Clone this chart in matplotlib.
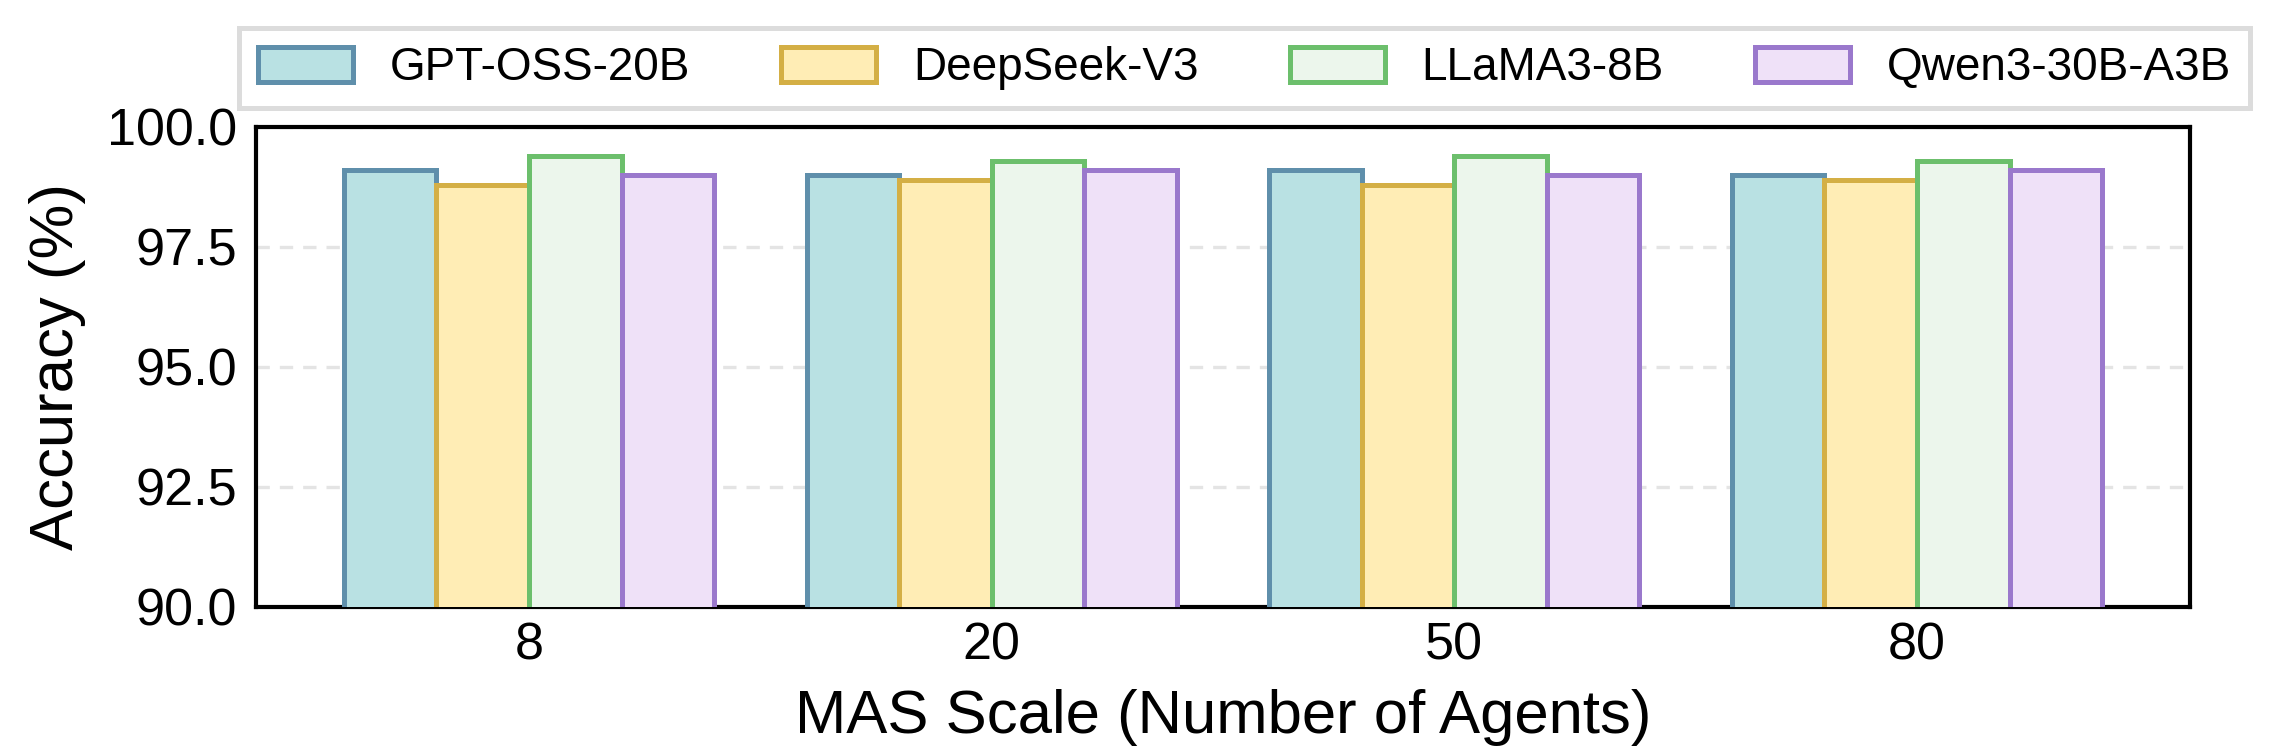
import numpy as np
import matplotlib
matplotlib.use("Agg")
import matplotlib.pyplot as plt

plt.rcParams['font.family'] = ['Liberation Sans', 'DejaVu Sans']

# data
scales = ['8', '20', '50', '80']
models = ['GPT-OSS-20B', 'DeepSeek-V3', 'LLaMA3-8B', 'Qwen3-30B-A3B']
gpt_oss = [99.1, 99.0, 99.1, 99.0]
deepseek = [98.8, 98.9, 98.8, 98.9]
llama = [99.4, 99.3, 99.4, 99.3]
qwen = [99.0, 99.1, 99.0, 99.1]
yticks = [90.0, 92.5, 95.0, 97.5, 100.0]

fills = ['#b9e1e3', '#ffedb5', '#ecf6ec', '#efe1f8']
edges = ['#5f8fab', '#d4af45', '#6cbf6c', '#9a78cc']

fig = plt.figure(figsize=(2276 / 300, 749 / 300), dpi=300)
ax = fig.add_axes([0.1125, 0.1896, 0.8497, 0.6409])

x = np.arange(len(scales))
w = 0.2
for i, vals in enumerate([gpt_oss, deepseek, llama, qwen]):
    ax.bar(x + (i - 1.5) * w, vals, w, color=fills[i], edgecolor=edges[i],
           linewidth=1.2, label=models[i], zorder=3)

ax.set_ylim(90, 100)
ax.set_yticks(yticks)
ax.set_yticklabels([f'{v:.1f}' for v in yticks])
ax.set_xticks(x)
ax.set_xticklabels(scales)
ax.tick_params(axis='both', length=0, labelsize=12.5)
ax.tick_params(axis='x', pad=3.5)
ax.tick_params(axis='y', pad=4.5)
ax.yaxis.grid(True, linestyle=(0, (4, 3)), color='#e4e4e4', linewidth=0.8, zorder=0)
ax.set_axisbelow(True)
for s in ax.spines.values():
    s.set_linewidth(1.0)

ax.set_xlabel('MAS Scale (Number of Agents)', fontsize=14.8, labelpad=4.5)
ax.set_ylabel('Accuracy (%)', fontsize=14.8, labelpad=5)

leg = fig.legend(loc='center', bbox_to_anchor=(0.5468, 0.909), ncol=4,
                 fontsize=11, frameon=True, fancybox=False, edgecolor='#d4d4d4',
                 columnspacing=2.0, handlelength=2.07, handleheight=0.8,
                 handletextpad=0.8, borderpad=0.4)
leg.get_frame().set_linewidth(1.2)

fig.savefig('out.png', dpi=300)
